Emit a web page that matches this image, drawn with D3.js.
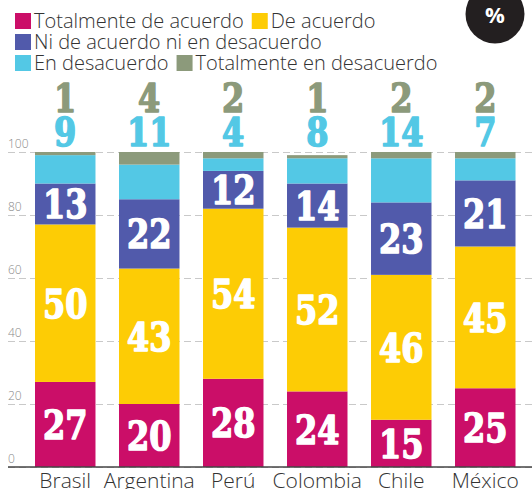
<!doctype html>
<html>
<head>
  <meta charset="UTF-8">
  <style>
    body { margin: 0; background: #fff; }
    .legend text, .country { font-family: "Open Sans", "Lato", sans-serif; font-weight: 300; fill: #333; }
    .num { font-family: "DejaVu Serif", serif; font-weight: bold; }
  </style>
  <script src="https://cdn.jsdelivr.net/npm/d3@7"></script>
</head>
<body>
<svg width="532" height="489"></svg>
<script>

const countries = ["Brasil", "Argentina", "Perú", "Colombia", "Chile", "México"];
const seriesNames = ["Totalmente de acuerdo", "De acuerdo", "Ni de acuerdo ni en desacuerdo", "En desacuerdo", "Totalmente en desacuerdo"];
const seriesColors = ["#cb0e68", "#fdcc05", "#515aab", "#53c8e5", "#8c9a7b"];

const totalmenteDeAcuerdo    = [27, 20, 28, 24, 15, 25];
const deAcuerdo              = [50, 43, 54, 52, 46, 45];
const niDeAcuerdoNiDesacuerdo = [13, 22, 12, 14, 23, 21];
const enDesacuerdo           = [9, 11, 4, 8, 14, 7];
const totalmenteEnDesacuerdo = [1, 4, 2, 1, 2, 2];

const yTicks = [0, 20, 40, 60, 80, 100];

var rows = countries.map(function(c, i) {
  return {
    country: c,
    s0: totalmenteDeAcuerdo[i],
    s1: deAcuerdo[i],
    s2: niDeAcuerdoNiDesacuerdo[i],
    s3: enDesacuerdo[i],
    s4: totalmenteEnDesacuerdo[i]
  };
});
var keys = ["s0", "s1", "s2", "s3", "s4"];

var svg = d3.select("svg");

var y = d3.scaleLinear().domain([0, 100]).range([467, 152]);
var x = d3.scaleBand().domain(countries).range([35, 515.5]).paddingInner(0.28).paddingOuter(0);

// grid + tick labels
var axis = svg.append("g")
  .attr("transform", "translate(8,0)")
  .call(d3.axisRight(y).tickValues(yTicks).tickSize(524).tickFormat(d3.format("d")));
axis.select(".domain").remove();
axis.selectAll(".tick line")
  .attr("stroke", "#c9c9c9")
  .attr("stroke-dasharray", "7,4");
axis.selectAll(".tick text")
  .attr("x", 0)
  .attr("dy", -5)
  .attr("text-anchor", "start")
  .style("font-family", "'Open Sans', sans-serif")
  .style("font-weight", 300)
  .style("font-size", "12px")
  .attr("fill", "#8a8a8a");

// bars
var stacked = d3.stack().keys(keys)(rows);

svg.append("g").selectAll("g")
  .data(stacked)
  .enter().append("g")
  .attr("fill", function(d, i) { return seriesColors[i]; })
  .selectAll("rect")
  .data(function(d) { return d; })
  .enter().append("rect")
  .attr("x", function(d) { return x(d.data.country); })
  .attr("y", function(d) { return y(d[1]); })
  .attr("width", x.bandwidth())
  .attr("height", function(d) { return y(d[0]) - y(d[1]); });

// baseline
svg.append("line")
  .attr("x1", 8).attr("x2", 532)
  .attr("y1", y(0)).attr("y2", y(0))
  .attr("stroke", "#444").attr("stroke-width", 1.5);

function bigNumber(sel, cx, baseY, txt, color) {
  sel.append("text")
    .attr("class", "num")
    .attr("transform", "translate(" + cx + "," + baseY + ") scale(0.8,1)")
    .attr("text-anchor", "middle")
    .style("font-size", "40px")
    .attr("fill", color)
    .attr("stroke", color)
    .attr("stroke-width", 1.6)
    .attr("stroke-linejoin", "round")
    .text(txt);
}

// labels inside first three segments
var labels = svg.append("g");
stacked.slice(0, 3).forEach(function(layer) {
  layer.forEach(function(d) {
    var cx = x(d.data.country) + x.bandwidth() / 2;
    var cy = (y(d[0]) + y(d[1])) / 2 + 14.5;
    bigNumber(labels, cx, cy, d[1] - d[0], "#fff");
  });
});

// small segments labelled above the bars
countries.forEach(function(c, i) {
  var cx = x(c) + x.bandwidth() / 2;
  bigNumber(labels, cx, 146, enDesacuerdo[i], seriesColors[3]);
  bigNumber(labels, cx, 112, totalmenteEnDesacuerdo[i], seriesColors[4]);
});

// country names
svg.append("g").selectAll("text")
  .data(countries)
  .enter().append("text")
  .attr("class", "country")
  .attr("x", function(d) { return x(d) + x.bandwidth() / 2; })
  .attr("y", 488)
  .attr("text-anchor", "middle")
  .style("font-size", "21px")
  .text(function(d) { return d; });

// legend
var legendRows = [[0, 1], [2], [3, 4]];
var legend = svg.append("g").attr("class", "legend");
legendRows.forEach(function(row, r) {
  var lx = 15;
  var ly = 13 + r * 21;
  row.forEach(function(k) {
    legend.append("rect")
      .attr("x", lx).attr("y", ly)
      .attr("width", 16).attr("height", 16)
      .attr("fill", seriesColors[k]);
    var t = legend.append("text")
      .attr("x", lx + 19)
      .attr("y", ly + 15)
      .style("font-size", "20px")
      .text(seriesNames[k]);
    lx += 19 + t.node().getComputedTextLength() + 8;
  });
});

// percent badge
svg.append("circle")
  .attr("cx", 495).attr("cy", 14).attr("r", 29.5)
  .attr("fill", "#231f20");
svg.append("text")
  .attr("x", 495).attr("y", 23)
  .attr("text-anchor", "middle")
  .style("font-family", "'Open Sans', sans-serif")
  .style("font-weight", "bold")
  .style("font-size", "22px")
  .attr("fill", "#fff")
  .text("%");

</script>
</body>
</html>
